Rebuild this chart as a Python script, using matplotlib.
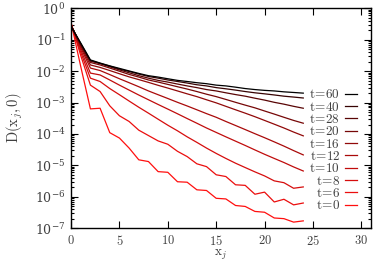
import numpy as np
import matplotlib
matplotlib.use("Agg")
import matplotlib.pyplot as plt
from matplotlib.ticker import LogLocator, NullFormatter, FuncFormatter

plt.rcParams['font.family'] = 'DejaVu Serif'
plt.rcParams['mathtext.fontset'] = 'cm'
plt.rcParams['font.size'] = 9

# lattice sites
xj = list(range(25))

# D(x_j, 0), one list per time
d_t0 = [0.355, 1.41e-2, 6.3e-4, 6.6e-4, 1.1e-4, 7.4e-5, 3.55e-5, 1.5e-5, 1.32e-5, 6.3e-6,
        6.0e-6, 3.0e-6, 2.9e-6, 1.66e-6, 1.58e-6, 8.9e-7, 8.5e-7, 5.25e-7, 4.9e-7, 3.4e-7,
        3.2e-7, 2.1e-7, 2.0e-7, 1.55e-7, 1.7e-7]
d_t6 = [0.34, 3.16e-2, 3.6e-3, 2.25e-3, 7.9e-4, 3.8e-4, 2.5e-4, 1.32e-4, 8.9e-5, 6.0e-5,
        4.7e-5, 2.8e-5, 1.9e-5, 1.12e-5, 9.1e-6, 5.0e-6, 4.4e-6, 2.4e-6, 2.3e-6, 1.2e-6,
        1.4e-6, 6.8e-7, 8.3e-7, 5.5e-7, 6.3e-7]
d_t8 = [0.32, 4.0e-2, 6.0e-3, 4.7e-3, 2.8e-3, 1.78e-3, 1.12e-3, 7.1e-4, 4.6e-4, 2.95e-4,
        1.9e-4, 1.26e-4, 8.1e-5, 5.4e-5, 3.55e-5, 2.4e-5, 1.66e-5, 1.17e-5, 8.5e-6, 6.2e-6,
        4.6e-6, 3.2e-6, 2.8e-6, 1.86e-6, 2.05e-6]
d_t10 = [0.31, 4.8e-2, 8.7e-3, 7.6e-3, 5.25e-3, 3.6e-3, 2.5e-3, 1.74e-3, 1.23e-3, 8.7e-4,
         6.2e-4, 4.4e-4, 3.1e-4, 2.2e-4, 1.55e-4, 1.12e-4, 8.1e-5, 5.9e-5, 4.3e-5, 3.1e-5,
         2.25e-5, 1.66e-5, 1.23e-5, 8.9e-6, 6.6e-6]
d_t12 = [0.30, 5.6e-2, 1.26e-2, 1.05e-2, 7.8e-3, 5.75e-3, 4.3e-3, 3.2e-3, 2.35e-3, 1.78e-3,
         1.35e-3, 1.02e-3, 7.8e-4, 5.9e-4, 4.45e-4, 3.4e-4, 2.5e-4, 1.86e-4, 1.38e-4, 1.02e-4,
         7.6e-5, 5.6e-5, 4.1e-5, 2.95e-5, 2.15e-5]
d_t16 = [0.295, 6.3e-2, 1.58e-2, 1.32e-2, 1.05e-2, 8.3e-3, 6.6e-3, 5.4e-3, 4.4e-3, 3.55e-3,
         2.9e-3, 2.35e-3, 1.9e-3, 1.55e-3, 1.23e-3, 9.8e-4, 7.6e-4, 5.9e-4, 4.6e-4, 3.55e-4,
         2.7e-4, 2.05e-4, 1.55e-4, 1.15e-4, 8.7e-5]
d_t20 = [0.29, 6.8e-2, 1.9e-2, 1.58e-2, 1.26e-2, 1.0e-2, 7.9e-3, 6.5e-3, 5.25e-3, 4.5e-3,
         3.8e-3, 3.2e-3, 2.7e-3, 2.25e-3, 1.85e-3, 1.55e-3, 1.26e-3, 1.02e-3, 8.3e-4, 6.8e-4,
         5.4e-4, 4.3e-4, 3.4e-4, 2.7e-4, 2.2e-4]
d_t28 = [0.28, 7.2e-2, 2.09e-2, 1.74e-2, 1.38e-2, 1.1e-2, 8.9e-3, 7.2e-3, 6.0e-3, 5.1e-3,
         4.5e-3, 3.9e-3, 3.4e-3, 3.0e-3, 2.6e-3, 2.35e-3, 2.05e-3, 1.8e-3, 1.6e-3, 1.38e-3,
         1.2e-3, 1.02e-3, 8.9e-4, 7.6e-4, 6.6e-4]
d_t40 = [0.275, 7.6e-2, 2.19e-2, 1.78e-2, 1.45e-2, 1.17e-2, 9.8e-3, 8.1e-3, 6.8e-3, 6.0e-3,
         5.25e-3, 4.7e-3, 4.2e-3, 3.7e-3, 3.4e-3, 3.0e-3, 2.75e-3, 2.5e-3, 2.25e-3, 2.05e-3,
         1.9e-3, 1.75e-3, 1.6e-3, 1.5e-3, 1.4e-3]
d_t60 = [0.263, 7.94e-2, 2.29e-2, 1.82e-2, 1.48e-2, 1.23e-2, 1.02e-2, 8.5e-3, 7.2e-3, 6.5e-3,
         5.75e-3, 5.1e-3, 4.7e-3, 4.3e-3, 4.0e-3, 3.6e-3, 3.4e-3, 3.1e-3, 2.8e-3, 2.6e-3,
         2.45e-3, 2.35e-3, 2.2e-3, 2.1e-3, 2.0e-3]

times = [0, 6, 8, 10, 12, 16, 20, 28, 40, 60]
series = [d_t0, d_t6, d_t8, d_t10, d_t12, d_t16, d_t20, d_t28, d_t40, d_t60]

fig = plt.figure(figsize=(3.74, 2.64), dpi=100)
ax = fig.add_axes([0.19, 0.136, 0.802, 0.832])

# red for early times fading to black for late ones
n = len(times)
lines = {}
for i, (t, d) in enumerate(zip(times, series)):
    r = (1 - i / (n - 1)) ** 0.7
    ln, = ax.plot(xj, d, color=(r, 0.06 * r, 0.06 * r), lw=0.9)
    lines[t] = ln

txt = '#404040'
ax.set_yscale('log')
ax.set_xlim(0, 31)
ax.set_ylim(1e-7, 1)
ax.set_xticks([0, 5, 10, 15, 20, 25, 30])
ax.xaxis.set_major_formatter(FuncFormatter(lambda v, p: f'${v:g}$'))
ax.yaxis.set_major_locator(LogLocator(base=10, numticks=10))
ax.yaxis.set_minor_locator(LogLocator(base=10, subs=np.arange(2, 10), numticks=10))
ax.yaxis.set_minor_formatter(NullFormatter())
ax.tick_params(which='both', direction='in', top=True, right=True, colors='black',
               labelcolor=txt, labelsize=9, width=0.8)
ax.tick_params(which='major', length=5, pad=4)
ax.tick_params(which='minor', length=2.5)
ax.xaxis.get_offset_text().set_visible(False)
ax.yaxis.get_offset_text().set_visible(False)
for s in ax.spines.values():
    s.set_linewidth(1.0)

ax.set_xlabel(r'$\mathrm{x}_j$', color=txt, fontsize=9.5, labelpad=0)
ax.set_ylabel(r'$\mathrm{D(x}_j\mathrm{,0)}$', color=txt, fontsize=10.5, labelpad=7)

# legend lists latest time first, text before the sample line
order = times[::-1]
ax.legend([lines[t] for t in order], [r'$\mathrm{t}\!=\!\mathrm{%d}$' % t for t in order],
          loc='lower right', bbox_to_anchor=(0.985, 0.03), frameon=False,
          markerfirst=False, handlelength=0.9, handletextpad=0.4,
          labelspacing=-0.05, fontsize=9.5, borderpad=0.2, labelcolor=txt)

fig.savefig('out.png', dpi=100)
